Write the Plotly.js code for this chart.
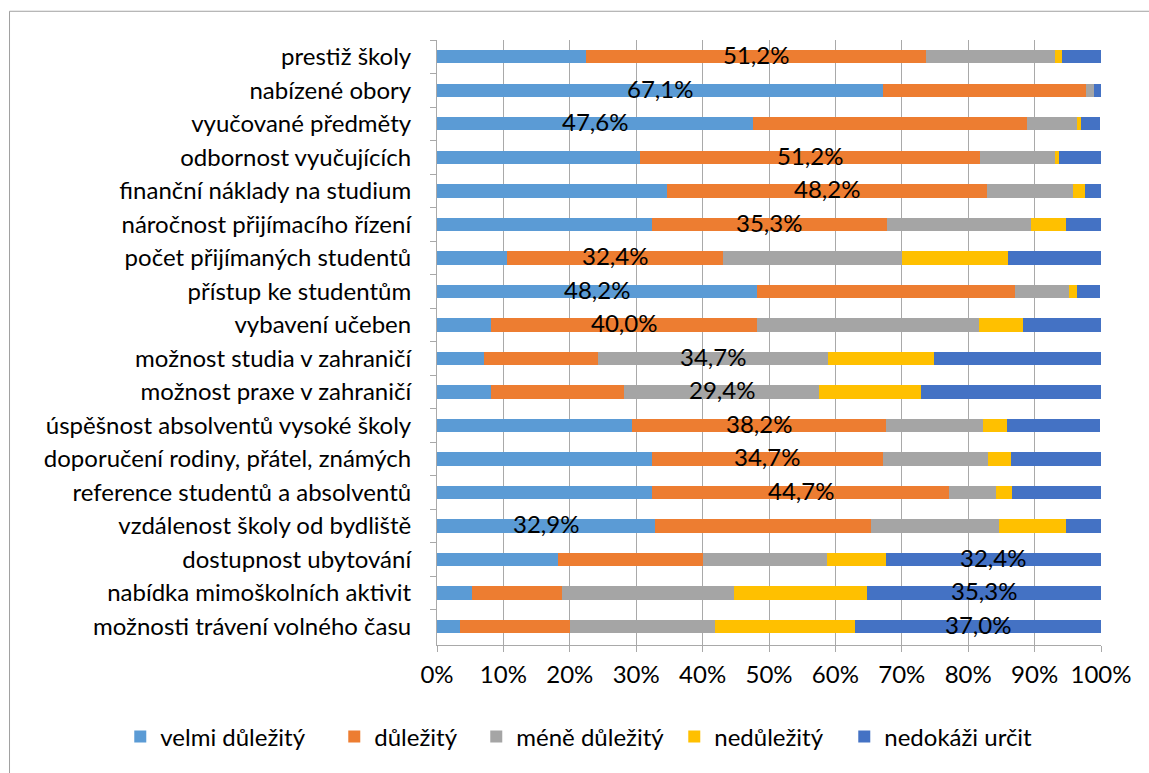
<!DOCTYPE html>
<html>
<head>
<meta charset="utf-8">
<script src="https://cdn.plot.ly/plotly-3.0.1.min.js"></script>
<style>
  html, body { margin: 0; padding: 0; background: #ffffff; }
  #chart { width: 1149px; height: 773px; }
</style>
</head>
<body>
<div id="chart"></div>
<script>
// Survey factors (share of answers, %), top to bottom
const categories = [
  "prestiž školy",
  "nabízené obory",
  "vyučované předměty",
  "odbornost vyučujících",
  "finanční náklady na studium",
  "náročnost přijímacího řízení",
  "počet přijímaných studentů",
  "přístup ke studentům",
  "vybavení učeben",
  "možnost studia v zahraničí",
  "možnost praxe v zahraničí",
  "úspěšnost absolventů vysoké školy",
  "doporučení rodiny, přátel, známých",
  "reference studentů a absolventů",
  "vzdálenost školy od bydliště",
  "dostupnost ubytování",
  "nabídka mimoškolních aktivit",
  "možnosti trávení volného času"
];

const seriesNames = ["velmi důležitý", "důležitý", "méně důležitý", "nedůležitý", "nedokáži určit"];

const velmiDulezity = [22.4, 67.1, 47.6, 30.6, 34.7, 32.4, 10.6, 48.2, 8.2, 7.1, 8.2, 29.4, 32.4, 32.4, 32.9, 18.2, 5.3, 3.5];
const dulezity      = [51.2, 30.6, 41.2, 51.2, 48.2, 35.3, 32.4, 38.8, 40.0, 17.1, 20.0, 38.2, 34.7, 44.7, 32.4, 21.8, 13.5, 16.5];
const meneDulezity  = [19.4, 1.2, 7.6, 11.2, 12.9, 21.8, 27.1, 8.2, 33.5, 34.7, 29.4, 14.7, 15.9, 7.1, 19.4, 18.8, 25.9, 21.8];
const nedulezity    = [1.2, 0.0, 0.6, 0.6, 1.8, 5.3, 15.9, 1.2, 6.5, 15.9, 15.3, 3.5, 3.5, 2.4, 10.0, 8.8, 20.0, 21.2];
const nedokaziUrcit = [5.9, 1.2, 2.9, 6.5, 2.4, 5.3, 14.1, 3.5, 11.8, 25.3, 27.1, 14.1, 13.5, 13.5, 5.3, 32.4, 35.3, 37.0];

const xTickValues = [0, 10, 20, 30, 40, 50, 60, 70, 80, 90, 100];
const xTickLabels = ["0%", "10%", "20%", "30%", "40%", "50%", "60%", "70%", "80%", "90%", "100%"];

const series = [velmiDulezity, dulezity, meneDulezity, nedulezity, nedokaziUrcit];
const colors = ["#5B9BD5", "#ED7D31", "#A5A5A5", "#FFC000", "#4472C4"];
// room reserved for each legend entry's text, so entries spread along one row
const legendWidths = [169, 97, 153, 125, 150];

const FONT = "Lato, 'Open Sans', sans-serif";
const GRID = "#a9a9a9";

const traces = series.map((vals, k) => ({
  type: "bar",
  orientation: "h",
  name: seriesNames[k],
  y: categories,
  x: vals,
  legendwidth: legendWidths[k],
  marker: { color: colors[k], line: { width: 0 } },
  hoverinfo: "name+x"
}));

// Label the largest segment of every bar with its value
const annotations = categories.map((cat, i) => {
  let best = 0;
  for (let k = 1; k < series.length; k++) {
    if (series[k][i] > series[best][i]) best = k;
  }
  let start = 0;
  for (let k = 0; k < best; k++) start += series[k][i];
  const v = series[best][i];
  return {
    x: start + v / 2,
    y: cat,
    xref: "x",
    yref: "y",
    text: v.toFixed(1).replace(".", ",") + "%",
    showarrow: false,
    yshift: 2,
    font: { family: FONT, size: 24, color: "#000000" }
  };
});

const layout = {
  width: 1149,
  height: 773,
  margin: { l: 437, r: 48, t: 40, b: 128, pad: 0 },
  paper_bgcolor: "#ffffff",
  plot_bgcolor: "#ffffff",
  barmode: "stack",
  bargap: 0.6,
  font: { family: FONT, size: 24, color: "#000000" },
  showlegend: true,
  legend: {
    orientation: "h",
    x: -0.477,
    xanchor: "left",
    y: -0.152,
    yanchor: "middle",
    traceorder: "normal",
    font: { family: FONT, size: 24, color: "#000000" },
    itemclick: false
  },
  xaxis: {
    range: [0, 100],
    tickvals: xTickValues,
    ticktext: xTickLabels,
    showgrid: true,
    gridcolor: GRID,
    gridwidth: 1,
    zeroline: false,
    showline: true,
    linecolor: GRID,
    linewidth: 1,
    ticks: "outside",
    ticklen: 6,
    tickcolor: GRID,
    ticklabelstandoff: 2,
    tickfont: { family: FONT, size: 24, color: "#000000" },
    fixedrange: true
  },
  yaxis: {
    autorange: "reversed",
    type: "category",
    showgrid: false,
    zeroline: false,
    showline: true,
    linecolor: GRID,
    linewidth: 1,
    ticks: "outside",
    tickson: "boundaries",
    ticklen: 6,
    tickcolor: GRID,
    ticklabelstandoff: 20,
    tickfont: { family: FONT, size: 24, color: "#000000" },
    fixedrange: true
  },
  annotations: annotations,
  shapes: [{
    type: "path",
    xref: "paper",
    yref: "paper",
    path: "M -0.6438,-0.25 L -0.6438,1.0475 L 1.1,1.0475",
    line: { color: "#a0a0a0", width: 1 }
  }]
};

Plotly.newPlot("chart", traces, layout, { displayModeBar: false, staticPlot: true });
</script>
</body>
</html>
